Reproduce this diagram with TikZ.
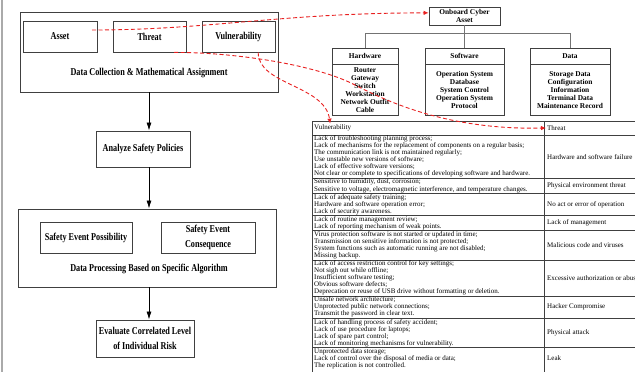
\documentclass[tikz,border=0pt]{standalone}
\usepackage{fontspec}
\setmainfont{Liberation Serif}
\newfontfamily\boxfont[FakeStretch=0.78]{Liberation Serif}
\usetikzlibrary{arrows.meta}
\definecolor{linkred}{RGB}{232, 32, 32}
\definecolor{framegray}{RGB}{64, 64, 64}
\definecolor{sidegray}{RGB}{170, 170, 170}
\newcommand{\tightlines}{\lineskiplimit -5pt\relax}

\begin{document}
\begin{tikzpicture}[x=1pt, y=-1pt,
    stage/.style={draw=framegray, line width=0.9pt, inner sep=1pt, align=center,
      font=\boxfont\bfseries\fontsize{10.5}{15}\selectfont},
    caption/.style={inner sep=1pt, font=\boxfont\bfseries\fontsize{10.5}{15}\selectfont},
    treebox/.style={draw=framegray, line width=0.8pt, inner sep=1pt, align=center,
      font=\bfseries\fontsize{7.4}{8}\selectfont},
    flow/.style={draw=black, line width=0.8pt, -{Latex[length=8pt,width=5pt]}},
    branch/.style={draw=black!55, line width=0.7pt},
    link/.style={draw=linkred, line width=0.9pt, dash pattern=on 4pt off 2.5pt,
      -{Latex[length=5pt,width=4.5pt]}},
    cell/.style={anchor=west, inner sep=1pt, align=left,
      font=\fontsize{7}{7.05}\selectfont\tightlines},
    rule/.style={draw=black!75, line width=0.45pt}]
  \useasboundingbox (0,0) rectangle (635,372);
  \clip (0,0) rectangle (635,372);
  \draw[sidegray, line width=1.2pt] (2,0) -- (2,372);

  % Left: process chain
  \node[stage, minimum width=258, minimum height=80] (collect) at (149,52) {};
  \node[stage, minimum width=74, minimum height=31] (asset) at (60,36.5) {Asset};
  \node[stage, minimum width=73, minimum height=31] (threat) at (149.5,36.5) {Threat};
  \node[stage, minimum width=73, minimum height=31] (vuln) at (238.5,36.5) {Vulnerability};
  \node[caption] (collectlbl) at (149,73) {Data Collection \& Mathematical Assignment};

  \node[stage, minimum width=94, minimum height=36] (analyze) at (143,149) {Analyze Safety Policies};

  \node[stage, minimum width=258, minimum height=78] (process) at (147,248) {};
  \node[stage, minimum width=92, minimum height=31] (possible) at (86,237.5) {Safety Event Possibility};
  \node[stage, minimum width=94, minimum height=31] (conseq) at (208,237.5) {Safety Event\\Consequence};
  \node[caption] (processlbl) at (149,269) {Data Processing Based on Specific Algorithm};

  \node[stage, minimum width=98, minimum height=37] (evaluate) at (145,338.5) {Evaluate Correlated Level\\of Individual Risk};

  \draw[flow] (collect.south) -- (collect.south |- analyze.north);
  \draw[flow] (analyze.south -| collect.south) -- (process.north -| collect.south);
  \draw[flow] (process.south -| collect.south) -- (evaluate.north -| collect.south);

  % Right top: asset tree
  \node[treebox, minimum width=71, minimum height=18] (cyber) at (464.5,16) {Onboard Cyber\\Asset};
  \node[treebox, minimum width=66, minimum height=16] (hw) at (365,56) {Hardware};
  \node[treebox, minimum width=66, minimum height=51, anchor=north] (hwlist) at (hw.south)
    {Router\\Gateway\\Switch\\Workstation\\Network Outfit\\Cable};
  \node[treebox, minimum width=79, minimum height=16] (sw) at (464.5,56) {Software};
  \node[treebox, minimum width=79, minimum height=51, anchor=north] (swlist) at (sw.south)
    {Operation System\\Database\\System Control\\Operation System\\Protocol};
  \node[treebox, minimum width=80, minimum height=16] (data) at (570,56) {Data};
  \node[treebox, minimum width=80, minimum height=51, anchor=north] (datalist) at (data.south)
    {Storage Data\\Configuration\\Information\\Terminal Data\\Maintenance Record};

  \draw[branch] (cyber.south) -- ++(0,8) coordinate (fork);
  \draw[branch] (fork) -| (hw.north);
  \draw[branch] (fork) -| (data.north);
  \draw[branch] (fork) -- (sw.north);

  % Right bottom: vulnerability / threat table
  \draw[rule] (312,121) -- (640,121);
  \draw[rule] (312,121) -- (312,372);
  \draw[rule] (544,121) -- (544,372);
  \node[cell] (vhead) at (313,128) {Vulnerability};
  \node[cell] (thead) at (546,128) {Threat};
  \foreach \ytop/\ybot/\vul/\thr [count=\r] in {
    135/178.3/{Lack of troubleshooting planning process;\\Lack of mechanisms for the replacement of components on a regular basis;\\The communication link is not maintained regularly;\\Use unstable new versions of software;\\Lack of effective software versions;\\Not clear or complete to specifications of developing software and hardware.}/{Hardware and software failure},
    178.3/193.4/{Sensitive to humidity, dust, corrosion;\\Sensitive to voltage, electromagnetic interference, and temperature changes.}/{Physical environment threat},
    193.4/215.6/{Lack of adequate safety training;\\Hardware and software operation error;\\Lack of security awareness.}/{No act or error of operation},
    215.6/230.7/{Lack of routine management review;\\Lack of reporting mechanism of weak points.}/{Lack of management},
    230.7/259.9/{Virus protection software is not started or updated in time;\\Transmission on sensitive information is not protected;\\System functions such as automatic running are not disabled;\\Missing backup.}/{Malicious code and viruses},
    259.9/296.1/{Lack of access restriction control for key settings;\\Not sigh out while offline;\\Insufficient software testing;\\Obvious software defects;\\Deprecation or reuse of USB drive without formatting or deletion.}/{Excessive authorization or abuse},
    296.1/318.3/{Unsafe network architecture;\\Unprotected public network connections;\\Transmit the password in clear text.}/{Hacker Compromise},
    318.3/347.5/{Lack of handling process of safety accident;\\Lack of use procedure for laptops;\\Lack of spare part control;\\Lack of monitoring mechanisms for vulnerability.}/{Physical attack},
    347.5/369.6/{Unprotected data storage;\\Lack of control over the disposal of media or data;\\The replication is not controlled.}/{Leak}
  }{
    \draw[rule] (312,\ytop) -- (640,\ytop);
    \node[cell] (vul\r) at (313,{(\ytop+\ybot)/2}) {\vul};
    \node[cell] (thr\r) at (546,{(\ytop+\ybot)/2}) {\thr};
  }

  % Red mapping links
  \coordinate (assetout) at (92,30);
  \draw[link] (assetout) .. controls (210,30) and (280,13) .. (cyber.175);
  \draw[link] (threat.-33) .. controls (230,52) and (315,64) .. (355,85)
    .. controls (390,103) and (450,130) .. (thead.west);
  \draw[link] (vuln.-39) .. controls (258,85) and (325,85) .. (vhead.120);
\end{tikzpicture}
\end{document}
